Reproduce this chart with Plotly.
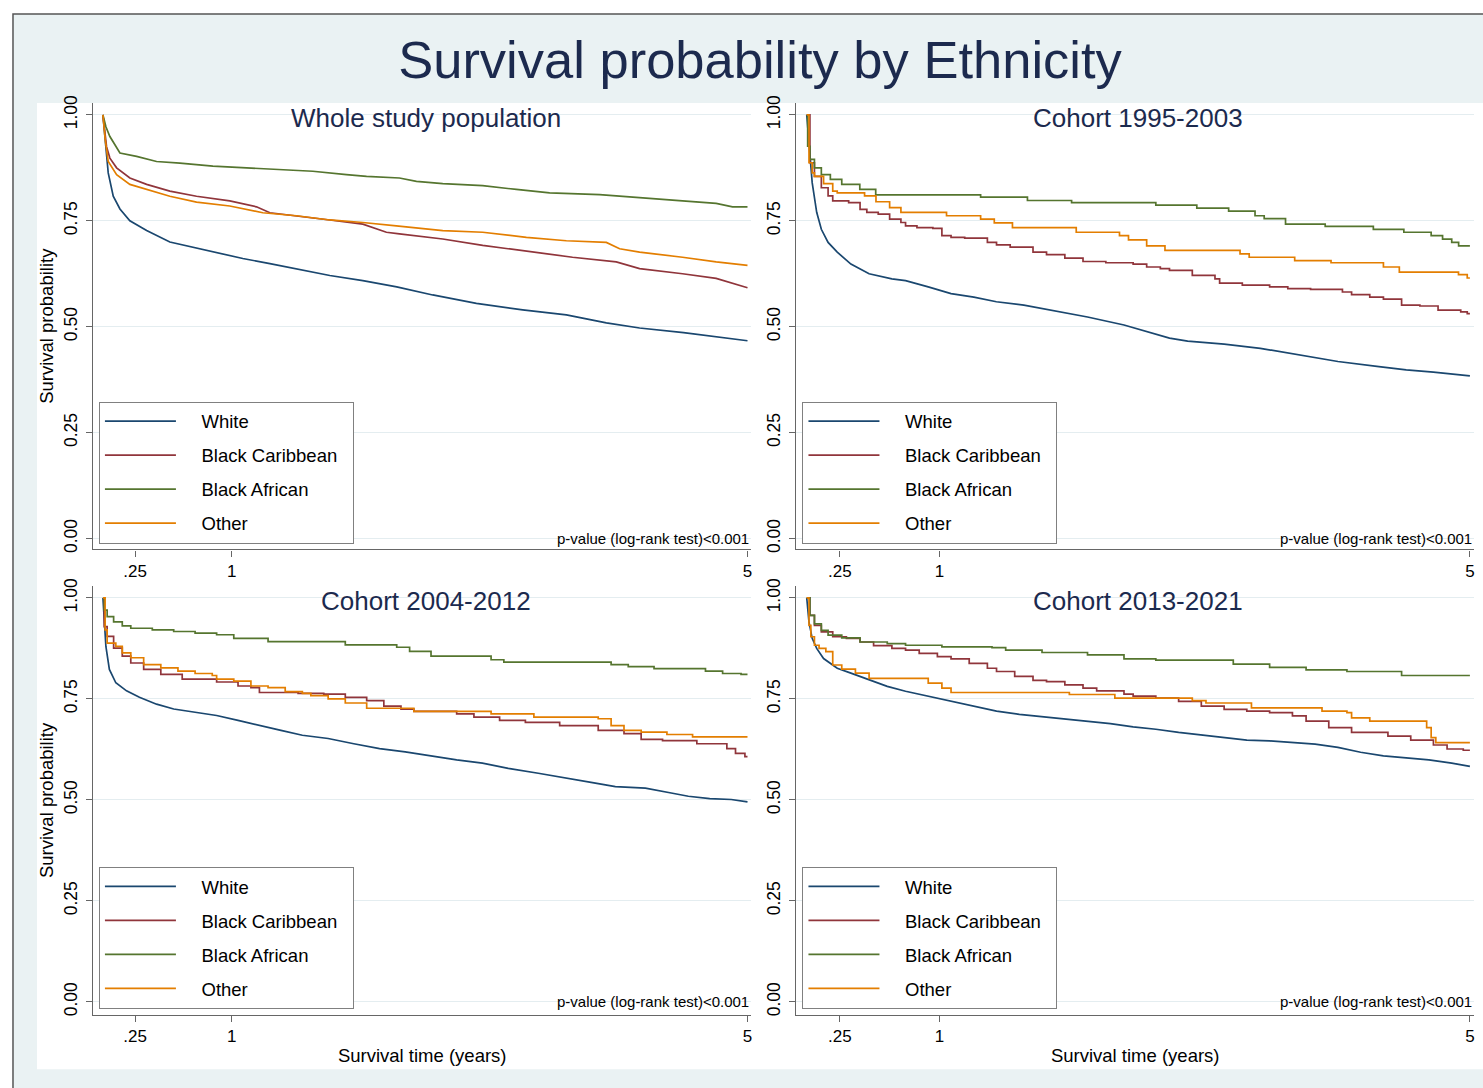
import plotly.graph_objects as go

W, H = 1483, 1088
FONT = "Liberation Sans, Arial, Helvetica, sans-serif"
NAVY = "#1c2a4e"

GROUPS = ["White", "Black Caribbean", "Black African", "Other"]
COLORS = ["#1a476f", "#90353b", "#55752f", "#e37e00"]
PANEL_TITLES = ["Whole study population", "Cohort 1995-2003", "Cohort 2004-2012", "Cohort 2013-2021"]
X_TICKS = [0.25, 1, 5]
X_TICK_TEXT = [".25", "1", "5"]
Y_TICKS = [0, 0.25, 0.5, 0.75, 1.0]
Y_TICK_TEXT = ["0.00", "0.25", "0.50", "0.75", "1.00"]

# ---------------- Whole study population ----------------
WSP_WHITE_T = [0, 0.023, 0.041, 0.080, 0.132, 0.209, 0.339, 0.519, 0.698, 0.881, 1.085, 1.295, 1.550, 1.760, 2.016, 2.279, 2.558, 2.897, 3.256, 3.595, 3.905, 4.163, 4.504, 4.757, 5.0]
WSP_WHITE_S = [1.0, 0.925, 0.863, 0.808, 0.778, 0.750, 0.727, 0.700, 0.688, 0.676, 0.661, 0.649, 0.633, 0.621, 0.609, 0.594, 0.575, 0.555, 0.540, 0.528, 0.509, 0.497, 0.486, 0.477, 0.467]
WSP_BCAR_T = [0, 0.028, 0.054, 0.106, 0.209, 0.339, 0.519, 0.726, 0.984, 1.191, 1.295, 1.501, 1.760, 2.016, 2.199, 2.300, 2.636, 2.946, 3.333, 3.643, 3.982, 4.163, 4.496, 4.757, 5.0]
WSP_BCAR_S = [1.0, 0.925, 0.898, 0.875, 0.851, 0.836, 0.820, 0.808, 0.797, 0.783, 0.769, 0.762, 0.752, 0.742, 0.723, 0.719, 0.707, 0.692, 0.676, 0.664, 0.653, 0.637, 0.625, 0.614, 0.592]
WSP_BAFR_T = [0, 0.023, 0.054, 0.132, 0.261, 0.416, 0.597, 0.853, 1.114, 1.372, 1.628, 1.889, 2.045, 2.300, 2.432, 2.636, 2.946, 3.207, 3.465, 3.853, 4.240, 4.496, 4.757, 4.884, 5.0]
WSP_BAFR_S = [1.0, 0.972, 0.949, 0.910, 0.902, 0.890, 0.886, 0.879, 0.875, 0.871, 0.867, 0.859, 0.855, 0.851, 0.843, 0.838, 0.833, 0.824, 0.816, 0.812, 0.804, 0.797, 0.791, 0.783, 0.783]
WSP_OTH_T = [0, 0.018, 0.041, 0.106, 0.209, 0.339, 0.519, 0.726, 0.984, 1.240, 1.501, 1.760, 2.016, 2.276, 2.636, 2.946, 3.285, 3.595, 3.905, 4.008, 4.163, 4.496, 4.757, 5.0]
WSP_OTH_S = [1.0, 0.941, 0.890, 0.859, 0.836, 0.824, 0.808, 0.794, 0.785, 0.769, 0.762, 0.752, 0.746, 0.738, 0.727, 0.723, 0.711, 0.703, 0.699, 0.684, 0.676, 0.664, 0.653, 0.645]

# ---------------- Cohort 1995-2003 ----------------
C95_WHITE_T = [0, 0.017, 0.041, 0.075, 0.11, 0.161, 0.23, 0.333, 0.47, 0.642, 0.745, 0.916, 1.088, 1.26, 1.43, 1.637, 1.843, 2.117, 2.392, 2.563, 2.735, 2.872, 3.147, 3.42, 3.696, 4.005, 4.314, 4.52, 4.725, 5.0]
C95_WHITE_S = [1.0, 0.926, 0.84, 0.77, 0.73, 0.699, 0.676, 0.648, 0.625, 0.613, 0.609, 0.594, 0.578, 0.57, 0.559, 0.551, 0.539, 0.523, 0.504, 0.488, 0.473, 0.466, 0.459, 0.449, 0.434, 0.418, 0.406, 0.398, 0.393, 0.384]
C95_BCAR_T = [0, 0.024, 0.058, 0.11, 0.161, 0.196, 0.316, 0.402, 0.453, 0.539, 0.625, 0.710, 0.745, 0.831, 0.951, 1.019, 1.088, 1.191, 1.362, 1.431, 1.534, 1.706, 1.808, 1.946, 2.083, 2.255, 2.461, 2.563, 2.666, 2.735, 2.907, 3.078, 3.113, 3.284, 3.490, 3.627, 3.799, 4.039, 4.108, 4.245, 4.348, 4.485, 4.623, 4.760, 4.931, 4.98, 5.0]
C95_BCAR_S = [1.0, 0.887, 0.855, 0.828, 0.809, 0.797, 0.793, 0.777, 0.770, 0.766, 0.754, 0.746, 0.738, 0.734, 0.732, 0.715, 0.711, 0.709, 0.699, 0.693, 0.688, 0.676, 0.670, 0.662, 0.654, 0.651, 0.648, 0.641, 0.637, 0.633, 0.621, 0.613, 0.603, 0.598, 0.594, 0.590, 0.588, 0.582, 0.576, 0.570, 0.565, 0.551, 0.549, 0.539, 0.535, 0.531, 0.531]
C95_BAFR_T = [0, 0.007, 0.024, 0.058, 0.11, 0.178, 0.264, 0.40, 0.52, 1.311, 1.664, 1.997, 2.632, 2.941, 3.181, 3.380, 3.449, 3.610, 3.909, 4.272, 4.502, 4.708, 4.794, 4.863, 4.915, 5.0]
C95_BAFR_S = [1.0, 0.926, 0.895, 0.875, 0.859, 0.848, 0.836, 0.824, 0.811, 0.806, 0.798, 0.793, 0.787, 0.780, 0.773, 0.762, 0.755, 0.742, 0.737, 0.730, 0.723, 0.715, 0.707, 0.699, 0.691, 0.691]
C95_OTH_T = [0, 0.017, 0.041, 0.058, 0.127, 0.196, 0.23, 0.436, 0.522, 0.625, 0.710, 1.054, 1.311, 1.414, 1.551, 2.032, 2.358, 2.426, 2.563, 2.701, 3.267, 3.336, 3.679, 3.953, 4.348, 4.468, 4.914, 4.98, 5.0]
C95_OTH_S = [1.0, 0.887, 0.863, 0.855, 0.838, 0.820, 0.816, 0.809, 0.795, 0.781, 0.770, 0.762, 0.754, 0.745, 0.734, 0.723, 0.715, 0.705, 0.691, 0.680, 0.672, 0.664, 0.656, 0.651, 0.641, 0.629, 0.623, 0.615, 0.615]

# ---------------- Cohort 2004-2012 ----------------
C04_WHITE_T = [0, 0.01, 0.023, 0.05, 0.1, 0.183, 0.283, 0.416, 0.549, 0.715, 0.882, 1.048, 1.214, 1.381, 1.547, 1.747, 1.946, 2.146, 2.345, 2.545, 2.744, 2.944, 3.144, 3.377, 3.609, 3.809, 3.975, 4.208, 4.408, 4.541, 4.707, 4.874, 5.0]
C04_WHITE_S = [1.0, 0.945, 0.88, 0.823, 0.79, 0.77, 0.754, 0.737, 0.725, 0.717, 0.709, 0.697, 0.684, 0.672, 0.660, 0.652, 0.639, 0.627, 0.619, 0.609, 0.599, 0.591, 0.578, 0.566, 0.554, 0.542, 0.533, 0.529, 0.517, 0.509, 0.503, 0.501, 0.495]
C04_BCAR_T = [0, 0.01, 0.033, 0.083, 0.15, 0.216, 0.316, 0.449, 0.615, 0.882, 1.048, 1.148, 1.214, 1.514, 1.713, 1.880, 2.046, 2.179, 2.312, 2.412, 2.744, 2.878, 3.077, 3.277, 3.543, 3.842, 4.042, 4.175, 4.341, 4.607, 4.840, 4.907, 4.98, 5.0]
C04_BCAR_S = [1.0, 0.929, 0.905, 0.876, 0.856, 0.839, 0.823, 0.811, 0.799, 0.792, 0.782, 0.778, 0.766, 0.764, 0.762, 0.754, 0.746, 0.732, 0.725, 0.719, 0.713, 0.705, 0.697, 0.692, 0.684, 0.672, 0.664, 0.650, 0.647, 0.639, 0.627, 0.615, 0.607, 0.607]
C04_BAFR_T = [0, 0.01, 0.033, 0.083, 0.15, 0.216, 0.383, 0.549, 0.715, 0.882, 1.015, 1.281, 1.880, 2.279, 2.379, 2.545, 3.011, 3.110, 3.942, 4.075, 4.275, 4.674, 4.807, 4.95, 5.0]
C04_BAFR_S = [1.0, 0.97, 0.954, 0.941, 0.931, 0.925, 0.921, 0.917, 0.913, 0.909, 0.90, 0.892, 0.884, 0.878, 0.868, 0.856, 0.847, 0.841, 0.835, 0.830, 0.825, 0.819, 0.813, 0.811, 0.811]
C04_OTH_T = [0, 0.017, 0.033, 0.1, 0.15, 0.216, 0.316, 0.449, 0.582, 0.715, 0.848, 0.882, 1.015, 1.148, 1.281, 1.414, 1.547, 1.613, 1.747, 1.880, 2.046, 2.412, 3.011, 3.343, 3.842, 3.942, 4.042, 4.175, 4.375, 4.574, 5.0]
C04_OTH_S = [1.0, 0.921, 0.888, 0.880, 0.864, 0.852, 0.835, 0.827, 0.819, 0.813, 0.808, 0.799, 0.794, 0.782, 0.778, 0.768, 0.764, 0.758, 0.750, 0.740, 0.727, 0.719, 0.713, 0.705, 0.701, 0.684, 0.672, 0.668, 0.662, 0.656, 0.656]

# ---------------- Cohort 2013-2021 ----------------
C13_WHITE_T = [0, 0.017, 0.041, 0.075, 0.127, 0.23, 0.333, 0.47, 0.607, 0.745, 0.916, 1.088, 1.259, 1.431, 1.603, 1.774, 1.946, 2.117, 2.289, 2.461, 2.632, 2.804, 2.975, 3.147, 3.318, 3.490, 3.662, 3.833, 4.005, 4.176, 4.348, 4.520, 4.691, 4.863, 5.0]
C13_WHITE_S = [1.0, 0.94, 0.90, 0.875, 0.85, 0.826, 0.814, 0.797, 0.781, 0.769, 0.757, 0.744, 0.732, 0.720, 0.712, 0.706, 0.701, 0.695, 0.689, 0.681, 0.675, 0.667, 0.661, 0.654, 0.648, 0.646, 0.642, 0.638, 0.630, 0.618, 0.609, 0.604, 0.599, 0.591, 0.583]
C13_BCAR_T = [0, 0.024, 0.058, 0.11, 0.196, 0.299, 0.402, 0.504, 0.642, 0.745, 0.848, 0.985, 1.088, 1.225, 1.362, 1.431, 1.568, 1.706, 1.808, 1.946, 2.083, 2.186, 2.392, 2.461, 2.632, 2.804, 2.975, 3.147, 3.318, 3.490, 3.662, 3.765, 3.936, 4.108, 4.382, 4.554, 4.725, 4.828, 4.95, 5.0]
C13_BCAR_S = [1.0, 0.957, 0.932, 0.916, 0.904, 0.90, 0.891, 0.882, 0.875, 0.871, 0.863, 0.855, 0.849, 0.838, 0.826, 0.818, 0.806, 0.796, 0.793, 0.785, 0.777, 0.770, 0.762, 0.757, 0.752, 0.744, 0.732, 0.724, 0.720, 0.716, 0.708, 0.695, 0.679, 0.667, 0.658, 0.648, 0.636, 0.626, 0.623, 0.623]
C13_BAFR_T = [0, 0.024, 0.058, 0.11, 0.161, 0.264, 0.402, 0.607, 0.745, 1.019, 1.397, 1.5, 1.774, 2.117, 2.392, 2.632, 3.216, 3.490, 3.765, 4.073, 4.485, 5.0]
C13_BAFR_S = [1.0, 0.957, 0.936, 0.92, 0.908, 0.901, 0.891, 0.887, 0.883, 0.879, 0.877, 0.871, 0.865, 0.859, 0.849, 0.846, 0.836, 0.828, 0.822, 0.818, 0.808, 0.808]
C13_OTH_T = [0, 0.017, 0.031, 0.058, 0.093, 0.144, 0.196, 0.264, 0.367, 0.47, 0.916, 1.019, 1.088, 1.980, 2.323, 2.907, 3.010, 3.353, 3.885, 4.073, 4.108, 4.245, 4.674, 4.708, 4.743, 5.0]
C13_OTH_S = [1.0, 0.932, 0.904, 0.883, 0.875, 0.867, 0.834, 0.824, 0.814, 0.801, 0.789, 0.777, 0.766, 0.761, 0.752, 0.746, 0.740, 0.728, 0.720, 0.716, 0.703, 0.695, 0.679, 0.654, 0.642, 0.642]

PANELS = [
    [(WSP_WHITE_T, WSP_WHITE_S), (WSP_BCAR_T, WSP_BCAR_S), (WSP_BAFR_T, WSP_BAFR_S), (WSP_OTH_T, WSP_OTH_S)],
    [(C95_WHITE_T, C95_WHITE_S), (C95_BCAR_T, C95_BCAR_S), (C95_BAFR_T, C95_BAFR_S), (C95_OTH_T, C95_OTH_S)],
    [(C04_WHITE_T, C04_WHITE_S), (C04_BCAR_T, C04_BCAR_S), (C04_BAFR_T, C04_BAFR_S), (C04_OTH_T, C04_OTH_S)],
    [(C13_WHITE_T, C13_WHITE_S), (C13_BCAR_T, C13_BCAR_S), (C13_BAFR_T, C13_BAFR_S), (C13_OTH_T, C13_OTH_S)],
]


def px_x(p):
    return p / W


def px_y(p):
    return 1 - p / H


# panel geometry in pixels: (left, right, top, bottom)
GEOM = [(93, 752, 96, 547), (797, 1475, 96, 547), (93, 752, 584, 1017), (797, 1475, 584, 1017)]
Y_RANGES = [[-0.0257, 1.028], [-0.0257, 1.028], [-0.0319, 1.0294], [-0.0319, 1.0294]]
X_RANGE = [-0.0775, 5.031]
TITLE_POS = [(426.5, 111), (1139, 111), (426.5, 599), (1139, 599)]
LEAD = "\u00a0" * 4   # gap between legend key line and label
TRAIL = "\u00a0" * 2  # right padding inside the legend box

fig = go.Figure()

for p, series in enumerate(PANELS):
    n = p + 1
    xa = "x" if n == 1 else f"x{n}"
    ya = "y" if n == 1 else f"y{n}"
    lg = "legend" if n == 1 else f"legend{n}"
    for g, (t, s) in enumerate(series):
        smooth = (p == 0) or (g == 0)
        fig.add_trace(go.Scatter(
            x=t, y=s, mode="lines", name=LEAD + GROUPS[g] + TRAIL,
            line=dict(color=COLORS[g], width=1.7, shape="linear" if smooth else "hv"),
            xaxis=xa, yaxis=ya, legend=lg, legendgroup=f"{n}-{GROUPS[g]}",
            hovertemplate=GROUPS[g] + ": %{y:.3f} at %{x:.2f} y<extra></extra>",
        ))

layout = dict(
    width=W, height=H,
    margin=dict(l=0, r=0, t=0, b=0),
    paper_bgcolor="white", plot_bgcolor="white",
    font=dict(family=FONT, color="black"),
    showlegend=True,
    title=dict(text="Survival probability by Ethnicity", x=px_x(760), y=px_y(60),
               xanchor="center", yanchor="middle",
               font=dict(size=52.5, color=NAVY, family=FONT)),
    shapes=[
        dict(type="rect", xref="paper", yref="paper", layer="below",
             x0=px_x(13), x1=px_x(1500), y0=px_y(1100), y1=px_y(6),
             fillcolor="#eaf2f3", line=dict(color="#555555", width=1.5)),
        dict(type="rect", xref="paper", yref="paper", layer="below",
             x0=px_x(37), x1=px_x(1500), y0=px_y(1072), y1=px_y(96),
             fillcolor="white", line=dict(width=0)),
    ],
    annotations=[],
)

for p in range(4):
    n = p + 1
    left, right, top, bottom = GEOM[p]
    xk = "xaxis" if n == 1 else f"xaxis{n}"
    yk = "yaxis" if n == 1 else f"yaxis{n}"
    xa = "x" if n == 1 else f"x{n}"
    ya = "y" if n == 1 else f"y{n}"
    layout[xk] = dict(
        domain=[px_x(left), px_x(right)], anchor=ya, range=X_RANGE,
        tickmode="array", tickvals=X_TICKS, ticktext=X_TICK_TEXT,
        showline=True, linecolor="#666666", linewidth=1.3,
        ticks="outside", ticklen=6, tickcolor="#666666", tickwidth=1.3,
        showgrid=False, zeroline=False,
        tickfont=dict(size=17, color="black", family=FONT),
        fixedrange=True,
    )
    if n >= 3:
        layout[xk]["title"] = dict(text="Survival time (years)", standoff=3,
                                   font=dict(size=18.5, color="black", family=FONT))
    layout[yk] = dict(
        domain=[px_y(bottom), px_y(top)], anchor=xa, range=Y_RANGES[p],
        tickmode="array", tickvals=Y_TICKS, ticktext=Y_TICK_TEXT, tickangle=-90,
        ticklabelstandoff=2,
        showline=True, linecolor="#666666", linewidth=1.3,
        ticks="outside", ticklen=6, tickcolor="#666666", tickwidth=1.3,
        showgrid=True, gridcolor="#e4edf0", gridwidth=1, zeroline=False,
        tickfont=dict(size=17.5, color="black", family=FONT),
        fixedrange=True,
    )
    if n in (1, 3):
        layout[yk]["title"] = dict(text="Survival probability", standoff=2,
                                   font=dict(size=18.5, color="black", family=FONT))
    lk = "legend" if n == 1 else f"legend{n}"
    layout[lk] = dict(
        x=px_x(left + 6), y=px_y(bottom - 6), xref="paper", yref="paper",
        xanchor="left", yanchor="bottom",
        bgcolor="white", bordercolor="#808080", borderwidth=1,
        font=dict(size=18.5, color="black", family=FONT),
        itemwidth=71, tracegroupgap=7, traceorder="grouped",
    )
    tx, ty = TITLE_POS[p]
    layout["annotations"].append(dict(
        text=PANEL_TITLES[p], x=px_x(tx), y=px_y(ty), xref="paper", yref="paper",
        xanchor="center", yanchor="middle", showarrow=False,
        font=dict(size=26, color=NAVY, family=FONT)))
    layout["annotations"].append(dict(
        text="p-value (log-rank test)<0.001", x=1, y=0, xref=f"{xa} domain", yref=ya,
        xanchor="right", yanchor="middle", showarrow=False,
        font=dict(size=15, color="black", family=FONT)))

fig.update_layout(**layout)

fig.write_html("out.html", config={"displayModeBar": False},
               post_script="document.body.style.margin='0';document.body.style.overflow='hidden';")
